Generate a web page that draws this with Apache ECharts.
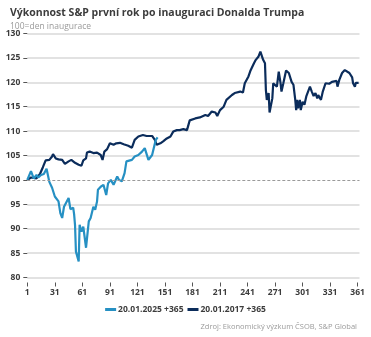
<!DOCTYPE html>
<html>
<head>
<meta charset="utf-8">
<script src="https://cdn.jsdelivr.net/npm/echarts@6/dist/echarts.min.js"></script>
<style>
  html, body { margin: 0; padding: 0; background: #fff; }
  #chart { width: 371px; height: 337px; }
</style>
</head>
<body>
<div id="chart"></div>
<script>
// S&P 500 index, 100 = inauguration day, indexed by trading day
const days2025 = [1, 3, 5, 7, 8, 11, 13, 16, 19, 22, 25, 28, 31, 35, 37, 39, 41, 43, 46, 48, 51, 52, 53, 54, 57, 58, 60, 62, 65, 68, 70, 73, 75, 77, 78, 81, 84, 87, 89, 92, 95, 99, 101, 104, 107, 109, 115, 118, 122, 126, 129, 133, 137, 141, 143];
const vals2025 = [100, 100.4, 101.8, 101.5, 100.3, 101, 100.5, 101, 101.2, 102.3, 99.6, 98.4, 96.6, 95.6, 93.2, 92.2, 94.5, 94.3, 96.3, 94, 94.3, 93, 90.8, 85.3, 83.3, 90.8, 89.4, 90.4, 86.1, 91.5, 92.2, 94.5, 93.9, 95.6, 98, 98.6, 99, 96.9, 99.3, 100, 99, 100.7, 100, 99.7, 101.4, 103.8, 104.1, 104.8, 105.1, 105.8, 106.5, 104.1, 105.1, 108.2, 108.7];

const days2017 = [1, 5, 11, 15, 18, 21, 25, 28, 29, 32, 35, 37, 39, 42, 46, 49, 53, 57, 58, 60, 62, 65, 66, 69, 73, 77, 79, 81, 83, 85, 88, 91, 95, 98, 102, 106, 111, 115, 118, 122, 127, 131, 137, 140, 142, 146, 149, 153, 157, 160, 164, 167, 171, 175, 178, 184, 189, 195, 198, 202, 206, 208, 211, 215, 218, 220, 224, 227, 229, 233, 236, 238, 242, 244, 248, 250, 253, 255, 258, 260, 261, 262, 264, 265, 268, 269, 271, 273, 275, 277, 278, 280, 283, 286, 288, 289, 291, 293, 294, 295, 296, 298, 299, 301, 303, 305, 307, 309, 311, 313, 315, 317, 318, 321, 323, 326, 328, 330, 333, 335, 338, 339, 341, 344, 347, 349, 352, 355, 356, 358, 359, 362];
const vals2017 = [100, 100.5, 100.3, 101.3, 102.6, 104, 104.1, 104.8, 105.3, 104.4, 104.2, 104.6, 104.1, 103.3, 103.8, 104.1, 103.5, 103.1, 103.5, 102.9, 104, 104.4, 105.6, 105.8, 105.5, 105.6, 106, 105.1, 104.1, 105.8, 106.3, 107.5, 107.2, 107.5, 107.6, 107.3, 107, 106.6, 108.2, 108.9, 109.2, 109, 109, 108.2, 107.2, 107.5, 107.9, 108.5, 108.9, 109.9, 110.2, 110.2, 110.4, 110.2, 112.2, 112.6, 112.8, 113.3, 113.1, 114, 113.8, 113.1, 114.3, 115, 116.4, 116, 117.4, 117.8, 118.1, 118.1, 117.9, 119.8, 121.2, 122.3, 123.9, 124.6, 125.3, 126.3, 124.6, 123.9, 118.4, 116.4, 117.8, 113.8, 116.7, 119.8, 120.1, 119.1, 122.2, 119.8, 118.1, 119.8, 122.4, 121.9, 121.5, 120.1, 119.5, 116.4, 114.3, 116.4, 114.7, 116.4, 114.3, 116, 115.4, 117.1, 117.4, 119.1, 118.1, 117.2, 117.8, 116.7, 117.4, 116.4, 118.1, 119.8, 120.1, 119.7, 120.1, 119.8, 120.3, 119.1, 120.5, 121.9, 122.5, 122.4, 121.9, 121, 119.8, 119.1, 119.9, 119.9];

const xTicks = [1, 31, 61, 91, 121, 151, 181, 211, 241, 271, 301, 331, 361];
const seriesNames = ['20.01.2025 +365', '20.01.2017 +365'];
const baseLevel = 100;

const colorLight = '#2690c3';
const colorDark = '#0b2c5b';
const textDark = '#3c3c3c';

// grid lines every 5 points; the 100 line is drawn dashed instead
const yMin = 80, yMax = 130, yStep = 5;
const gridColors = [];
for (let v = yMin; v <= yMax; v += yStep) {
  gridColors.push(v === baseLevel ? 'rgba(0,0,0,0)' : '#d9d9d9');
}

const toPairs = (xs, ys) => xs.map((d, i) => [d, ys[i]]);

const chart = echarts.init(document.getElementById('chart'), null, { renderer: 'canvas' });
chart.setOption({
  animation: false,
  backgroundColor: '#fff',
  title: [
    {
      text: 'Výkonnost S&P první rok po inauguraci Donalda Trumpa',
      left: 5, top: 3,
      textStyle: { fontFamily: 'Open Sans', fontSize: 10.5, fontWeight: 'bold', color: textDark }
    },
    {
      text: '100=den inaugurace',
      left: 5, top: 17,
      textStyle: { fontFamily: 'Open Sans', fontSize: 8.5, fontWeight: 'normal', color: '#9a9a9a' }
    },
    {
      text: 'Zdroj: Ekonomický výzkum ČSOB, S&P Global',
      right: 9, top: 318,
      textStyle: { fontFamily: 'Open Sans', fontSize: 7.5, fontWeight: 'normal', color: '#9a9a9a' }
    }
  ],
  legend: {
    data: seriesNames,
    left: 'center',
    top: 300,
    itemWidth: 11,
    itemHeight: 3,
    itemGap: 4,
    icon: 'rect',
    textStyle: { fontFamily: 'Open Sans', fontSize: 8.5, fontWeight: 'bold', color: textDark, padding: [0, 0, 0, -3] }
  },
  grid: { left: 27.3, right: 11.5, top: 33.5, bottom: 59.5, containLabel: false },
  xAxis: {
    type: 'value',
    min: 1,
    max: 363,
    offset: 5,
    axisLine: { show: false },
    axisTick: { show: true, length: 4, lineStyle: { color: '#555' }, customValues: xTicks },
    axisLabel: {
      customValues: xTicks,
      margin: 6,
      fontFamily: 'Open Sans', fontSize: 8.5, fontWeight: 'bold', color: textDark
    },
    splitLine: { show: false }
  },
  yAxis: {
    type: 'value',
    min: yMin, max: yMax, interval: yStep,
    axisLine: { show: false },
    axisTick: { show: true, length: 4, lineStyle: { color: '#555' } },
    axisLabel: { margin: 7, fontFamily: 'Open Sans', fontSize: 8.5, fontWeight: 'bold', color: textDark },
    splitLine: { show: true, lineStyle: { color: gridColors, width: 1.5 } }
  },
  series: [
    {
      name: seriesNames[1],
      type: 'line',
      data: toPairs(days2017, vals2017),
      showSymbol: false,
      lineStyle: { color: colorDark, width: 2.2 },
      itemStyle: { color: colorDark },
      z: 2,
      markLine: {
        silent: true,
        symbol: 'none',
        label: { show: false },
        lineStyle: { color: '#9a9a9a', type: [3, 2], width: 1 },
        data: [{ yAxis: baseLevel }]
      }
    },
    {
      name: seriesNames[0],
      type: 'line',
      data: toPairs(days2025, vals2025),
      showSymbol: false,
      lineStyle: { color: colorLight, width: 2.2 },
      itemStyle: { color: colorLight },
      z: 3
    }
  ]
});
</script>
</body>
</html>
